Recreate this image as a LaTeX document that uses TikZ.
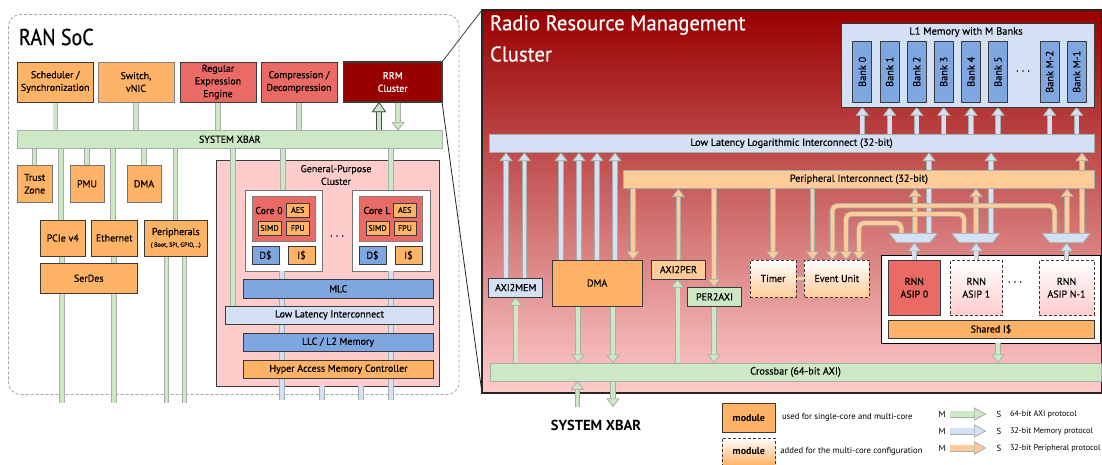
\documentclass[tikz,border=0pt]{standalone}
\usepackage{fontspec}
\setmainfont{PT Sans}[FakeBold=0.4]
\newfontfamily\ptplain{PT Sans}
\newfontfamily\ptbold{PT Sans Bold}
\newfontfamily\pthead{PT Sans}[FakeStretch=0.87,FakeBold=0.5]
\newfontfamily\ptheadw{PT Sans}[FakeStretch=0.97,FakeBold=0.5]
\usetikzlibrary{arrows.meta,calc,shapes.geometric}
\definecolor{cOr}{HTML}{FFB366}
\definecolor{cRed}{HTML}{EA6B66}
\definecolor{cBlue}{HTML}{7EA6E0}
\definecolor{cPB}{HTML}{D4E1F5}
\definecolor{cGr}{HTML}{CDE8C5}
\definecolor{cPO}{HTML}{FFCC99}
\definecolor{cPk}{HTML}{FFCCCC}
\definecolor{cDk}{HTML}{990000}
\definecolor{cEdge}{HTML}{3A3A3A}
\definecolor{cSoft}{HTML}{A8AFA8}
\pgfdeclarelayer{back}
\pgfdeclarelayer{mid}
\pgfsetlayers{back,mid,main}
\newcommand\fs[1]{\fontsize{#1}{12.7}\selectfont}
\tikzset{
 blk/.style={draw=cEdge,line width=1pt,inner sep=0pt,outer sep=0pt,align=center,text=black,font=\fs{10}},
 soft/.style={blk,draw=cSoft},
 orb/.style={blk,fill=cOr},
 rdb/.style={blk,fill=cRed},
 blb/.style={blk,fill=cBlue},
 grad/.style={blk,densely dashed,top color=white,middle color=#1,bottom color=#1},
 lbl/.style={inner sep=0pt,outer sep=0pt,align=center,font=\fs{10}},
 barbase/.style={line width=5.4pt,draw=cSoft,line cap=butt,postaction={draw=#1,line width=3.8pt}},
 gbar/.style={barbase=cGr},
 bbar/.style={barbase=cPB},
 obar/.style={barbase=cPO},
 tipped/.style={-{Triangle[width=13pt,length=8.5pt,fill=#1,color=cSoft,line width=.7pt]}},
 gar/.style={gbar,tipped=cGr},
 bar/.style={bbar,tipped=cPB},
 oar/.style={obar,tipped=cPO},
 darkup/.style={line width=6pt,draw=black!70,postaction={draw=cGr,line width=4.6pt},-{Triangle[width=14pt,length=10pt,fill=cGr,color=black!70,line width=.7pt]}},
 muxbox/.style={inner sep=0pt,outer sep=0pt,minimum width=48.5pt,minimum height=9.4pt},
 muxface/.style={draw=cSoft,fill=cPB,line width=.8pt},
}
\newcommand\bx[7]{\node[#6,minimum width={(#4-#2)*1pt},minimum height={(#5-#3)*1pt}] (#1) at ({(#2+#4)/2},{(#3+#5)/2}) {#7};}
\newcommand\bank[3]{\node[blb,rotate=90,minimum width=61.5pt,minimum height=18.8pt] (#1) at (#2,71.8) {\fs{10.3}#3};}
\newcommand\muxat[2]{\node[muxbox] (#1) at (#2,238) {};\draw[muxface] (#1.north west) -- (#1.north east) -- ([xshift=-7.6pt]#1.south east) -- ([xshift=7.6pt]#1.south west) -- cycle;}
\begin{document}
\begin{tikzpicture}[x=1pt,y=-1pt]
\useasboundingbox (0,0) rectangle (1102,464);
\begin{pgfonlayer}{back}
\fill[white] (0,0) rectangle (1102,464);
\bx{soc}{8.5}{14.5}{459}{394.5}{draw=black!35,densely dashed,line width=.8pt,rounded corners=12pt,inner sep=0pt}{}
\bx{gpc}{216.5}{160}{439}{386}{blk,fill=cPk}{}
\bx{wa}{245}{190}{322}{271}{blk,draw=black!55,fill=white}{}
\bx{wb}{352}{190}{430}{271}{blk,draw=black!55,fill=white}{}
\bx{rrmbg}{482}{10}{1101.5}{393}{blk,draw=black!85,line width=1.5pt,top color=cDk,bottom color=cPk}{}
\bx{wasip}{881.7}{255}{1100.7}{343}{blk,draw=black,fill=white}{}
\end{pgfonlayer}
% left side
\node[lbl,anchor=west,font=\pthead\fs{23}] (soct) at (19,37) {RAN SoC};
\bx{sched}{17.5}{62}{93}{102}{orb}{Scheduler /\\Synchronization}
\bx{switch}{98}{62}{174}{102}{orb,draw=black!50}{Switch,\\vNIC}
\bx{regex}{180}{62}{256}{102}{rdb}{Regular\\Expression\\Engine}
\bx{compr}{261}{62}{337}{102}{rdb}{Compression /\\Decompression}
\bx{rrm}{343.5}{62}{442}{102}{blk,fill=cDk,line width=1.4pt,text=white}{RRM\\Cluster}
\bx{xbar}{17.5}{130.5}{442}{148}{soft,fill=cGr}{SYSTEM XBAR}
\bx{trust}{17.5}{165.5}{52}{202}{orb,draw=black!55}{Trust\\Zone}
\bx{pmu}{70}{165.5}{104}{202}{orb,draw=black!55}{PMU}
\bx{dmaa}{127}{165.5}{161}{202}{orb,draw=black!55}{DMA}
\bx{pcie}{40}{220}{85.5}{256}{orb}{PCIe v4}
\bx{eth}{91.5}{220}{137}{256}{orb}{Ethernet}
\bx{peri}{144}{220}{207.5}{256}{orb}{Peripherals\\[-1pt]{\fs{6}( Boot, SPI, GPIO, ..)}}
\bx{serdes}{40}{263.5}{137.5}{293}{orb}{SerDes}
\node[lbl] (gpct) at (336,175) {General-Purpose\\Cluster};
% cores
\bx{c0}{252}{196.5}{315}{241}{rdb,draw=black!50}{}
\bx{cL}{359}{196.5}{422}{241}{rdb,draw=black!50}{}
\node[lbl] (c0t) at (269,210.5) {Core 0};
\node[lbl] (cLt) at (377,210.5) {Core L};
\bx{aes0}{286.5}{203}{309}{217}{orb,font=\fs{8}}{AES}
\bx{simd0}{258}{221}{281}{235}{orb,font=\fs{8}}{SIMD}
\bx{fpu0}{286.5}{221}{309}{235}{orb,font=\fs{8}}{FPU}
\bx{aesL}{393.5}{203}{416}{217}{orb,font=\fs{8}}{AES}
\bx{simdL}{366}{221}{389}{235}{orb,font=\fs{8}}{SIMD}
\bx{fpuL}{394}{221}{416}{235}{orb,font=\fs{8}}{FPU}
\bx{d0}{252}{246}{279}{264.5}{blb}{D\$}
\bx{i0}{288}{246}{315}{264.5}{orb}{I\$}
\bx{dL}{359}{246}{386}{264.5}{blb}{D\$}
\bx{iL}{395}{246}{422}{264.5}{orb}{I\$}
\node[lbl] (dots0) at (337,236) {. . .};
\bx{mlc}{243.5}{279.5}{433}{298}{blb}{MLC}
\bx{lli}{225.5}{306}{433.5}{324}{blk,fill=cPB}{Low Latency Interconnect}
\bx{llc}{243}{333.5}{433}{351}{blb}{LLC / L2 Memory}
\bx{hamc}{243.5}{360.5}{433.5}{378}{orb}{Hyper Access Memory Controller}
\coordinate (socg) at (0,403);
\coordinate (socb) at (0,400);
% right side
\node[lbl,anchor=west,text=white,font=\ptheadw\fs{21.3}] (rrmt1) at (490,25) {Radio Resource Management};
\node[lbl,anchor=west,text=white,font=\ptheadw\fs{21.3}] (rrmt2) at (490,54) {Cluster};
\bx{l1}{841}{23.5}{1094}{107}{blk,fill=cPB}{}
\node[lbl,font=\fs{10.5}] (l1t) at (966,32) {L1 Memory with M Banks};
\bank{b0}{862.3}{Bank 0}
\bank{b1}{889.6}{Bank 1}
\bank{b2}{916.7}{Bank 2}
\bank{b3}{943.7}{Bank 3}
\bank{b4}{971}{Bank 4}
\bank{b5}{998}{Bank 5}
\bank{bm2}{1049.6}{Bank M-2}
\bank{bm1}{1076.6}{Bank M-1}
\node[lbl] (dotsb) at (1023,71) {. . .};
\bx{logi}{489}{134}{1094}{152.5}{soft,fill=cPB,font=\fs{10.3}}{Low Latency Logarithmic Interconnect (32-bit)}
\bx{perint}{623.7}{170}{1094}{188.5}{soft,fill=cPO,font=\fs{10.3}}{Peripheral Interconnect (32-bit)}
\bx{axi2mem}{488.7}{278}{542.7}{297}{blk,fill=cPB}{AXI2MEM}
\bx{dmab}{552}{260}{642.3}{306}{orb}{DMA}
\bx{axi2per}{651.4}{260}{705.4}{279}{blk,fill=cPO}{AXI2PER}
\bx{per2axi}{687.5}{287.5}{741.5}{306}{blk,fill=cGr}{PER2AXI}
\bx{timer}{750}{260}{796}{297}{grad=cPO}{Timer}
\bx{event}{804.6}{260}{869}{297}{grad=cPO}{Event Unit}
\muxat{m0}{913.3}
\muxat{m1}{975.8}
\muxat{m2}{1066.3}
\bx{asip0}{888}{260.5}{940.7}{315}{rdb}{RNN\\ASIP 0}
\bx{asip1}{950}{260.5}{1002.5}{315}{grad=cPk}{RNN\\ASIP 1}
\bx{asipn}{1039}{260.5}{1094}{315}{grad=cPk}{RNN\\ASIP N-1}
\node[lbl] (dotsa) at (1015,282) {. . .};
\bx{shared}{888}{320}{1094}{338}{orb}{Shared I\$}
\bx{cross}{490}{363}{1101}{381}{soft,fill=cGr,font=\fs{10.3}}{Crossbar (64-bit AXI)}
\node[lbl,font=\ptbold\fs{14.5}] (sysx) at (596,425) {SYSTEM XBAR};
\coordinate (sysend) at (0,407);
% legend
\bx{lega}{722}{403.3}{775.6}{432}{orb}{\ptbold module}
\bx{legb}{722}{438}{775.6}{465}{grad=cOr}{\ptbold module}
\node[lbl,anchor=west,font=\ptplain\fs{8.7}] (lt1) at (782,417) {used for single-core and multi-core};
\node[lbl,anchor=west,font=\ptplain\fs{8.7}] (lt2) at (780.4,451) {added for the multi-core configuration};
\foreach \n/\y/\t in {a/414/64-bit AXI protocol,b/431/32-bit Memory protocol,c/448/32-bit Peripheral protocol}{
 \node[lbl,font=\ptplain\fs{8.8}] (lm\n) at (942,\y) {M};
 \node[lbl,font=\ptplain\fs{8.8}] (ls\n) at (999,\y) {S};
 \node[lbl,anchor=west,font=\ptplain\fs{8.2}] (lp\n) at (1010,\y) {\t};
}
% connectors
\begin{pgfonlayer}{mid}
\foreach \a in {sched,switch,regex,compr}{\draw[gbar] (\a.south) -- (\a.south |- xbar.north);}
\draw[darkup] (379,0 |- xbar.north) -- (379,0 |- rrm.south);
\draw[gar] (398,0 |- rrm.south) -- (398,0 |- xbar.north);
\foreach \a/\x in {trust/34.5,pmu/87,dmaa/144,pcie/61,eth/113,peri/175.5,wa/283,wb/391}{\draw[gbar] (\x,0 |- xbar.south) -- (\x,0 |- \a.north);}
\draw[gbar] (233,0 |- xbar.south) -- (233,0 |- lli.north);
\foreach \x in {62,114,166.5,184.5}{\draw[gbar] (\x,0 |- peri.south) -- (\x,0 |- socg);}
\foreach \x/\a in {282/wa,391/wb}{\draw[bbar] (\x,0 |- \a.south) -- (\x,0 |- socb);}
\foreach \x in {322,361}{\draw[bbar] (\x,0 |- gpc.south) -- (\x,0 |- socb);}
% zoom lines
\draw[black!75,line width=.8pt] (rrm.north east) -- (rrmbg.north west);
\draw[black!85,line width=.8pt] (rrm.south east) -- (rrmbg.south west);
% bank arrows
\foreach \b in {b0,b1,b2,b3,b4,b5,bm2,bm1}{\draw[bar] (logi.north -| \b) -- (l1.south -| \b);}
\foreach \x in {506,524.4}{\draw[bar] (\x,0 |- axi2mem.north) -- (\x,0 |- logi.south);}
\foreach \x in {561,579,597,615}{\draw[bar] (\x,0 |- dmab.north) -- (\x,0 |- logi.south);}
\draw[bar] (929,0 |- m0.north) -- (929,0 |- logi.south);
\draw[bar] (991,0 |- m1.north) -- (991,0 |- logi.south);
\draw[oar] (1082,0 |- m2.north) -- (1082,0 |- logi.south);
\draw[oar] (633,0 |- perint.south) -- (633,0 |- dmab.north);
\draw[oar] (678.4,0 |- axi2per.north) -- (678.4,0 |- perint.south);
\draw[oar] (714,0 |- perint.south) -- (714,0 |- per2axi.north);
\draw[oar] (773,0 |- perint.south) -- (773,0 |- timer.north);
\draw[oar] (812.5,0 |- perint.south) -- (812.5,0 |- event.north);
\draw[oar] (915,0 |- m0.north) -- (915,0 |- perint.south);
\draw[oar] (976,0 |- m1.north) -- (976,0 |- perint.south);
\draw[oar] (1067,0 |- m2.north) -- (1067,0 |- perint.south);
\draw[oar,rounded corners=5pt] (901.4,0 |- m0.north) -- (901.4,223) -- (859,223) -- (859,0 |- event.north);
\draw[oar,rounded corners=5pt] (964,0 |- m1.north) -- (964,214) -- (846,214) -- (846,0 |- event.north);
\draw[oar,rounded corners=5pt] (1054.6,0 |- m2.north) -- (1054.6,205.7) -- (832.4,205.7) -- (832.4,0 |- event.north);
\draw[obar] (timer.east) -- (event.west);
\draw[bar] (asip0.north) -- (asip0.north |- m0.south);
\draw[bar] (asip1.north) -- (asip1.north |- m1.south);
\draw[bar] (asipn.north) -- (asipn.north |- m2.south);
\draw[gar] (998,0 |- wasip.south) -- (998,0 |- cross.north);
\draw[gar] (515.7,0 |- cross.north) -- (515.7,0 |- axi2mem.south);
\draw[gar] (578,0 |- dmab.south) -- (578,0 |- cross.north);
\draw[gar] (613,0 |- dmab.south) -- (613,0 |- cross.north);
\draw[gar] (677.6,0 |- cross.north) -- (677.6,0 |- axi2per.south);
\draw[gar] (714,0 |- per2axi.south) -- (714,0 |- cross.north);
\draw[gar] (577.4,0 |- sysend) -- (577.4,0 |- cross.south);
\draw[gar] (613,0 |- cross.south) -- (613,0 |- sysend);
\end{pgfonlayer}
% legend arrows
\tikzset{leg/.style={line width=7pt,draw=cSoft,postaction={draw=#1,line width=5.6pt},-{Triangle[width=13pt,length=12pt,fill=#1,color=cSoft,line width=.7pt]}}}
\draw[leg=cGr] ([xshift=8pt]lma.center) -- ([xshift=-13pt]lsa.center);
\draw[leg=cPB] ([xshift=8pt]lmb.center) -- ([xshift=-13pt]lsb.center);
\draw[leg=cPO] ([xshift=8pt]lmc.center) -- ([xshift=-13pt]lsc.center);
\end{tikzpicture}
\end{document}
